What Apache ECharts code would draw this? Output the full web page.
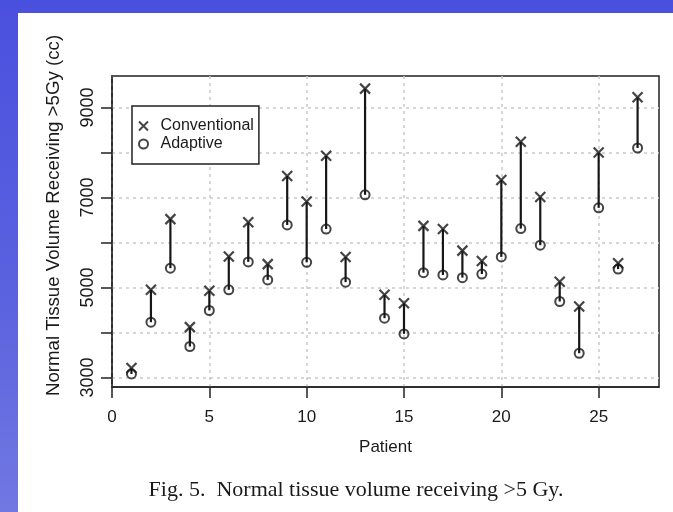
<!DOCTYPE html>
<html>
<head>
<meta charset="utf-8">
<script src="https://cdn.jsdelivr.net/npm/echarts@6/dist/echarts.min.js"></script>
<style>
  html, body { margin: 0; padding: 0; }
  body { width: 673px; height: 512px; position: relative; overflow: hidden;
         background: linear-gradient(to bottom, #4a50de 0%, #5c63df 60%, #7178e2 100%); }
  #panel { position: absolute; left: 18px; top: 13px; right: 0; bottom: 0; background: #ffffff; }
  #chart { position: absolute; left: 0; top: 0; width: 673px; height: 512px; }
</style>
</head>
<body>
<div id="panel"></div>
<div id="chart"></div>
<script>
// ---- data ----
const patients = [1,2,3,4,5,6,7,8,9,10,11,12,13,14,15,16,17,18,19,20,21,22,23,24,25,26,27];
const conventional = [3210,4950,6520,4120,4930,5690,6450,5520,7480,6910,7930,5680,9420,4840,4650,6370,6300,5820,5590,7390,8240,7010,5130,4580,8000,5540,9230];
const adaptive = [3080,4230,5430,3690,4490,4950,5570,5170,6390,5560,6300,5120,7060,4320,3970,5330,5280,5220,5300,5680,6310,5940,4690,3540,6770,5410,8100];
const xTicks = [0,5,10,15,20,25];
const yTicks = [3000,4000,5000,6000,7000,8000,9000];
const yLabels = [3000,5000,7000,9000];
const seriesNames = ['Conventional','Adaptive'];
const yTitle = 'Normal Tissue Volume Receiving >5Gy (cc)';
const xTitle = 'Patient';
const caption = 'Fig. 5.  Normal tissue volume receiving >5 Gy.';

const CROSS = 'path://M0,0L10,10M10,0L0,10';
const ink = '#161616';
const sans = '"Liberation Sans", Arial, Helvetica, sans-serif';

const chart = echarts.init(document.getElementById('chart'), null, {renderer: 'canvas'});
chart.setOption({
  backgroundColor: 'transparent',
  animation: false,
  title: {
    text: caption,
    left: 351, top: 474, textAlign: 'center',
    textStyle: { fontFamily: '"Liberation Serif", "Times New Roman", serif', fontSize: 22, fontWeight: 'normal', color: '#1a1a1a' }
  },
  grid: {
    left: 112, top: 76, right: 14, bottom: 125,
    show: true, borderColor: '#222', borderWidth: 1.5, backgroundColor: '#fff'
  },
  legend: {
    orient: 'vertical', left: 132, top: 106,
    data: [
      { name: seriesNames[0], icon: CROSS, itemStyle: { color: 'transparent', borderColor: ink, borderWidth: 2 } },
      { name: seriesNames[1], icon: 'circle', itemStyle: { color: 'transparent', borderColor: ink, borderWidth: 2 } }
    ],
    itemWidth: 24, itemHeight: 9, itemGap: 2,
    padding: [12, 5, 12, 6],
    borderColor: '#222', borderWidth: 1.5, backgroundColor: '#fff',
    selectedMode: false,
    textStyle: { fontFamily: sans, fontSize: 16, color: '#1a1a1a' }
  },
  xAxis: {
    type: 'value', min: 0, max: 28.1,
    name: xTitle, nameLocation: 'middle', nameGap: 52,
    nameTextStyle: { fontFamily: sans, fontSize: 17, color: '#1a1a1a' },
    axisLine: { show: true, onZero: false, lineStyle: { color: '#222', width: 1.5 } },
    axisTick: { show: true, length: 11, customValues: xTicks, lineStyle: { color: '#222', width: 1.5 } },
    axisLabel: { customValues: xTicks, margin: 22, fontFamily: sans, fontSize: 17, color: '#1a1a1a' },
    splitLine: { show: true, lineStyle: { color: '#c9c9c9', width: 1.5, type: [3, 4] } }
  },
  yAxis: {
    type: 'value', min: 2790, max: 9700,
    name: yTitle, nameLocation: 'middle', nameGap: 49, nameRotate: 90,
    nameTextStyle: { fontFamily: sans, fontSize: 18.7, color: '#1a1a1a', padding: [0, 0, 0, 32] },
    axisLine: { show: true, onZero: false, lineStyle: { color: '#222', width: 1.5 } },
    axisTick: { show: true, length: 11, customValues: yTicks, lineStyle: { color: '#222', width: 1.5 } },
    axisLabel: { customValues: yLabels, rotate: 90, margin: 15, fontFamily: sans, fontSize: 18, color: '#1a1a1a',
                 formatter: function (v) { return String(v); } },
    splitLine: { show: true, lineStyle: { color: '#c9c9c9', width: 1.5, type: [3, 4] } }
  },
  series: [
    {
      name: 'segments', type: 'custom', silent: true, z: 2,
      data: patients.map((p, i) => [p, adaptive[i], conventional[i]]),
      encode: { x: 0, y: [1, 2] },
      renderItem: function (params, api) {
        const a = api.coord([api.value(0), api.value(1)]);
        const c = api.coord([api.value(0), api.value(2)]);
        return { type: 'line', shape: { x1: a[0], y1: a[1], x2: c[0], y2: c[1] },
                 style: { stroke: ink, lineWidth: 2.2 } };
      }
    },
    {
      name: seriesNames[0], type: 'scatter', z: 3, silent: true,
      symbol: CROSS, symbolSize: 10,
      itemStyle: { color: 'transparent', borderColor: ink, borderWidth: 2.2 },
      data: patients.map((p, i) => [p, conventional[i]])
    },
    {
      name: seriesNames[1], type: 'scatter', z: 3, silent: true,
      symbol: 'circle', symbolSize: 9,
      itemStyle: { color: 'transparent', borderColor: ink, borderWidth: 2 },
      data: patients.map((p, i) => [p, adaptive[i]])
    }
  ]
});
</script>
</body>
</html>
